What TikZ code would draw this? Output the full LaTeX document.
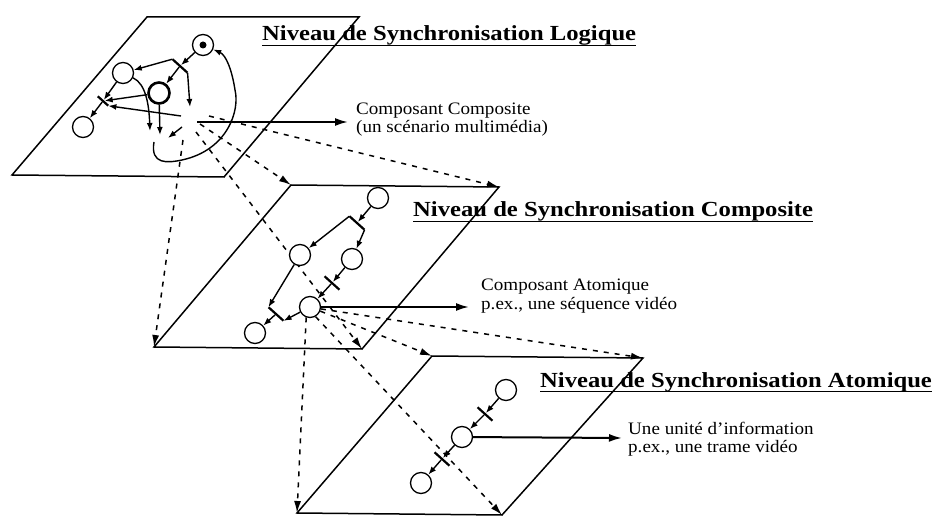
\documentclass[tikz,border=0pt]{standalone}
\usepackage{fontspec}
\setmainfont{Liberation Serif}
\newfontfamily\titlefont{Liberation Serif}[FakeStretch=1.146]
\newfontfamily\notefont{Liberation Serif}[FakeStretch=1.09]
\usetikzlibrary{arrows.meta}

\begin{document}
\begin{tikzpicture}[
  x=1pt, y=-1pt,
  plane/.style={draw, line width=1.5pt, line join=miter},
  place/.style={
     circle, draw, fill=white,
     line width=1.3pt,
     minimum size=21pt, inner sep=0pt},
  bar/.style={
     rectangle, fill=black,
     minimum width=20pt, minimum height=2.2pt,
     inner sep=0pt, rotate=-42},
  arc/.style={-{Latex[length=8pt,width=6pt]}, line width=1.4pt},
  proj/.style={-{Latex[length=12pt,width=7pt]}, line width=1.5pt, dash pattern=on 5pt off 6pt},
  pointer/.style={-{Latex[length=13pt,width=8pt]}, line width=2pt},
  level/.style={anchor=base west, inner sep=0pt, font=\titlefont\fontsize{21.5}{24}\selectfont\bfseries},
  note/.style={anchor=base west, inner sep=0pt, font=\notefont\fontsize{17.5}{18}\selectfont},
  rule/.style={line width=1.4pt}]
\useasboundingbox (0,0) rectangle (938,516);
% planes
\coordinate (L1nw) at (147,17);  \coordinate (L1ne) at (359,17);
\coordinate (L1se) at (224,177); \coordinate (L1sw) at (12,175);
\coordinate (L2nw) at (291,185); \coordinate (L2ne) at (499,187);
\coordinate (L2se) at (362,349); \coordinate (L2sw) at (154,347);
\coordinate (L3nw) at (432,356); \coordinate (L3ne) at (643,358);
\coordinate (L3se) at (502,515); \coordinate (L3sw) at (297,513);
\foreach \l in {L1,L2,L3}
  \draw[plane] (\l nw) -- (\l ne) -- (\l se) -- (\l sw) -- cycle;
% projections of the logical level
\coordinate (o1) at (183,140);
\coordinate (o2) at (200,124);
\coordinate (o3) at (209,116);
\coordinate (o4) at (196,132);
\draw[proj] (o1) -- (L2sw);
\draw[proj] (o2) -- (L2nw);
\draw[proj] (o3) -- (L2ne);
\draw[proj] (o4) -- (L2se);
% logical level
\node[place] (d)  at (203,45)  {};
\fill (d) circle (3.5pt);
\node[place] (lA) at (123,73)  {};
\node[place, line width=2.6pt] (lB) at (159,93) {};
\node[place] (lC) at (83,127)  {};
\node[bar] (lt1) at (180,66) {};
\node[bar, minimum width=14pt] (lt2) at (103,101) {};
\coordinate (e1) at (190,107);
\coordinate (e2) at (181,116);
\coordinate (e3) at (150,131);
\coordinate (e4) at (160,135);
\coordinate (e5) at (182,127);
\coordinate (e6) at (168,138);
\coordinate (e7) at (154,142);
% composite level
\node[place] (m1) at (378,198) {};
\node[bar]   (mt1) at (357,223) {};
\node[place] (m2) at (300,255) {};
\node[place] (m3) at (352,259) {};
\node[bar]   (mt2) at (332,283) {};
\node[place] (m4) at (310,307) {};
\node[bar]   (mt3) at (276,314) {};
\node[place] (m5) at (255,333) {};
% atomic level
\node[place] (a1) at (506,390) {};
\node[bar]   (at1) at (485,414) {};
\node[place] (a2) at (462,437) {};
\node[bar]   (at2) at (442,459) {};
\node[place] (a3) at (421,483) {};
% projections of the composite level
\draw[proj] (m4.250) -- (L3sw);
\draw[proj] (m4) -- (L3nw);
\draw[proj] (m4.-10) -- (L3ne);
\draw[proj] (m4.-60) -- (L3se);
% arcs
\draw[arc] (d) -- (lt1);
\draw[arc] (lt1.west) -- (lA);
\draw[arc] (lt1) -- (lB);
\draw[arc] (lt1.east) -- (e1);
\draw[arc] (lA) -- (lt2);
\draw[arc] (lB) -- (lt2);
\draw[arc] (e2) -- (lt2.east);
\draw[arc] (lt2) -- (lC);
\draw[arc] (lA) .. controls (146,84) and (149,105) .. (e3);
\draw[arc] (lB) -- (e4);
\draw[arc] (e5) -- (e6);
\draw[arc] (e7) .. controls (150,165) and (168,163) .. (182,160)
                .. controls (228,150) and (240,110) .. (235,90)
                .. controls (232,70) and (226,55) .. (d);
\draw[arc] (m1) -- (mt1);
\draw[arc] (mt1.west) -- (m2);
\draw[arc] (mt1.east) -- (m3);
\draw[arc] (m3) -- (mt2);
\draw[arc] (mt2) -- (m4);
\draw[arc] (m2) -- (mt3.west);
\draw[arc] (m4) -- (mt3.east);
\draw[arc] (mt3) -- (m5);
\draw[arc] (a1) -- (at1);
\draw[arc] (at1) -- (a2);
\draw[arc] (a2) -- (at2);
\draw[arc] (at2) -- (a3);
% pointers to the notes
\coordinate (cc) at (197,122);
\coordinate (ccTip) at (348,122);
\coordinate (caTip) at (469,307);
\coordinate (uiTip) at (622,438);
\draw[pointer] (cc) -- (ccTip);
\draw[pointer] (m4) -- (caTip);
\draw[pointer] (a2) -- (uiTip);
% titles
\node[level] (lvl1) at (262,41)  {Niveau de Synchronisation Logique};
\node[level] (lvl2) at (413,217) {Niveau de Synchronisation Composite};
\node[level] (lvl3) at (540,387) {Niveau de Synchronisation Atomique};
\foreach \t in {lvl1,lvl2,lvl3}
  \draw[rule] ([yshift=-4.5pt]\t.base west) -- ([yshift=-4.5pt]\t.base east);
% notes
\node[note] (cc1) at (356,115) {Composant Composite};
\node[note] (cc2) at (356,133) {(un scénario multimédia)};
\node[note] (ca1) at (481,290) {Composant Atomique};
\node[note] (ca2) at (481,309) {p.ex., une séquence vidéo};
\node[note] (ui1) at (628,434) {Une unité d’information};
\node[note] (ui2) at (628,452) {p.ex., une trame vidéo};
\end{tikzpicture}
\end{document}
